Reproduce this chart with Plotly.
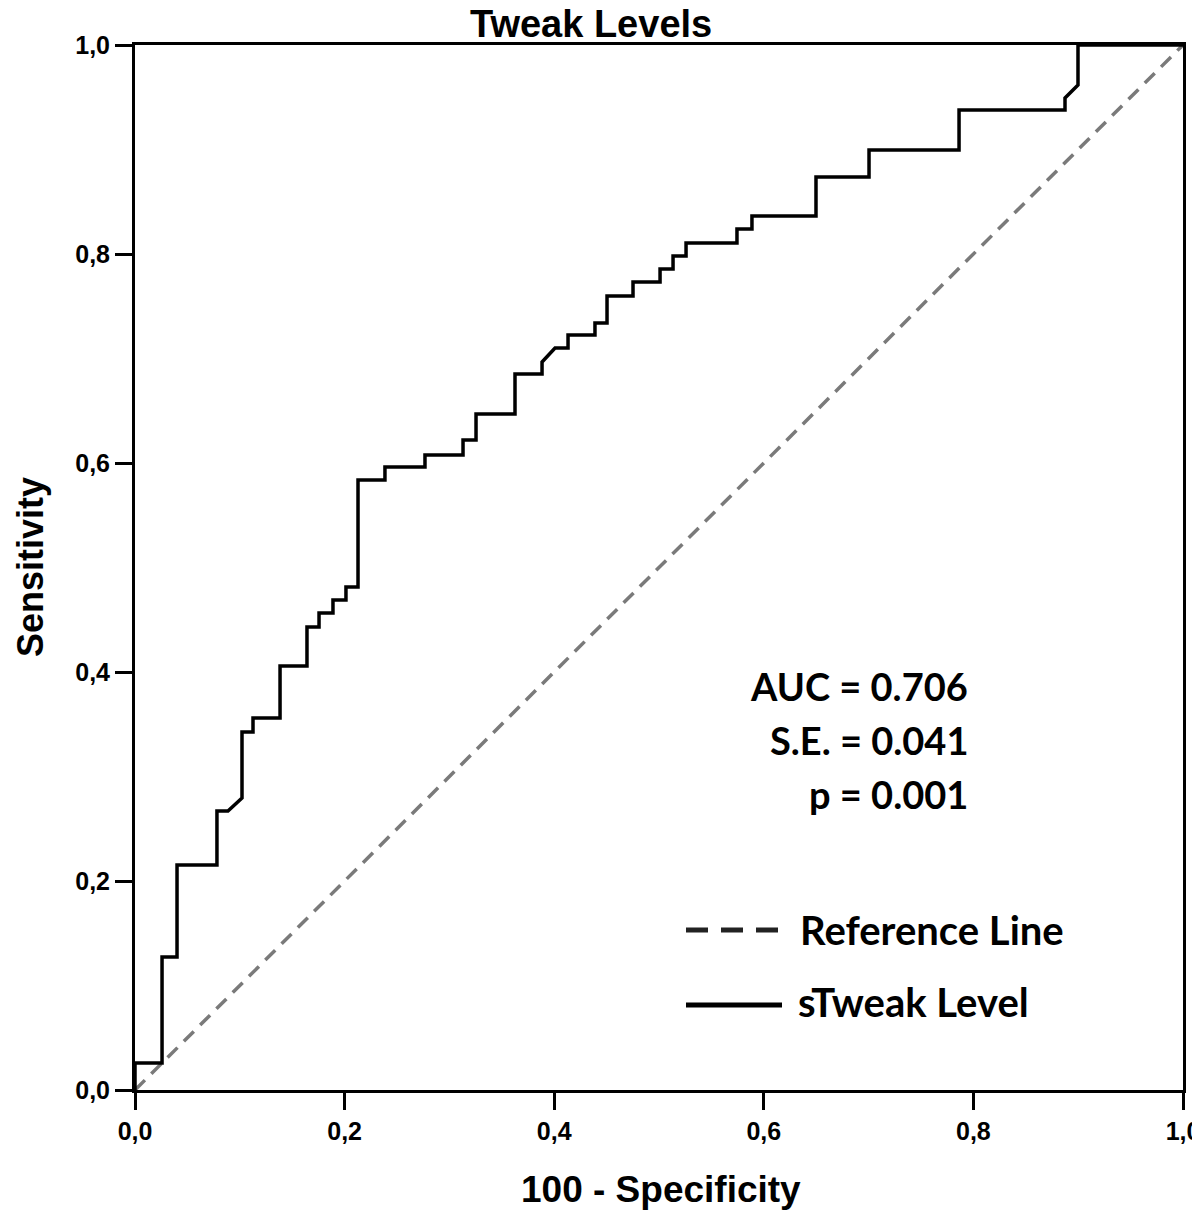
import plotly.graph_objects as go

# ROC curve vertices (1 - specificity, sensitivity)
fpr = [0.0, 0.0, 0.0258, 0.0258, 0.0401, 0.0401, 0.0782, 0.0782, 0.0887, 0.1021,
       0.1021, 0.1126, 0.1126, 0.1384, 0.1384, 0.1641, 0.1641, 0.1756, 0.1756, 0.1889,
       0.1889, 0.2013, 0.2013, 0.2128, 0.2128, 0.2385, 0.2385, 0.2767, 0.2767, 0.3130,
       0.3130, 0.3254, 0.3254, 0.3626, 0.3626, 0.3884, 0.3884, 0.4008, 0.4132, 0.4132,
       0.4389, 0.4389, 0.4504, 0.4504, 0.4752, 0.4752, 0.5010, 0.5010, 0.5134, 0.5134,
       0.5258, 0.5258, 0.5744, 0.5744, 0.5887, 0.5887, 0.6498, 0.6498, 0.7004, 0.7004,
       0.7863, 0.7863, 0.8874, 0.8874, 0.8998, 0.8998, 1.0]
tpr = [0.0, 0.0258, 0.0258, 0.1273, 0.1273, 0.2153, 0.2153, 0.2670, 0.2670, 0.2794,
       0.3426, 0.3426, 0.3560, 0.3560, 0.4057, 0.4057, 0.4431, 0.4431, 0.4565, 0.4565,
       0.4689, 0.4689, 0.4813, 0.4813, 0.5837, 0.5837, 0.5962, 0.5962, 0.6077, 0.6077,
       0.6220, 0.6220, 0.6469, 0.6469, 0.6852, 0.6852, 0.6967, 0.7100, 0.7100, 0.7225,
       0.7225, 0.7340, 0.7340, 0.7598, 0.7598, 0.7732, 0.7732, 0.7856, 0.7856, 0.7981,
       0.7981, 0.8105, 0.8105, 0.8239, 0.8239, 0.8364, 0.8364, 0.8737, 0.8737, 0.8995,
       0.8995, 0.9378, 0.9378, 0.9493, 0.9617, 1.0, 1.0]

ref_x = [0.0, 1.0]
ref_y = [0.0, 1.0]

tick_vals = [0.0, 0.2, 0.4, 0.6, 0.8, 1.0]
tick_text = ["0,0", "0,2", "0,4", "0,6", "0,8", "1,0"]

stats_lines = ["AUC = 0.706", "S.E. = 0.041", "p = 0.001"]
legend_names = ["Reference Line", "sTweak Level"]

TICKFONT = dict(family="Liberation Sans", size=25, color="black", weight="bold")
MAINTITLE = dict(family="Liberation Sans", size=38, color="black", weight="bold")
XTITLE = dict(family="Liberation Sans", size=37, color="black", weight="bold")
YTITLE = dict(family="Liberation Sans", size=36, color="black", weight="bold")
STATFONT = dict(family="Lato", size=38, color="black", weight="bold")
LEGFONT = dict(family="Lato", size=40, color="black", weight="bold")

fig = go.Figure()
fig.add_trace(go.Scatter(x=ref_x, y=ref_y, mode="lines",
                         line=dict(color="#7a7a7a", width=3.5, dash="14px,9px"),
                         name=legend_names[0], showlegend=False))
fig.add_trace(go.Scatter(x=fpr, y=tpr, mode="lines",
                         line=dict(color="black", width=3.5),
                         name=legend_names[1], showlegend=False))

axis_common = dict(range=[0, 1], showgrid=False, zeroline=False, showline=True,
                   linecolor="black", linewidth=3, mirror=True, ticks="outside",
                   ticklen=17, tickwidth=2.5, tickcolor="black", automargin=False,
                   tickvals=tick_vals, ticktext=tick_text, tickfont=TICKFONT)
fig.update_xaxes(**axis_common)
fig.update_yaxes(**axis_common)

# page places the figure with an 8px body margin; plot area spans 135..1183 x 45..1090 on screen
def px_x(p):
    return (p - 135) / 1048.0

def px_y(p):
    return (1090 - p) / 1045.0

ann = []
ann.append(dict(text="Tweak Levels", x=px_x(591), y=px_y(24), xref="paper", yref="paper",
                showarrow=False, xanchor="center", yanchor="middle", font=MAINTITLE))
ann.append(dict(text="100 - Specificity", x=px_x(661), y=px_y(1189), xref="paper", yref="paper",
                showarrow=False, xanchor="center", yanchor="middle", font=XTITLE))
ann.append(dict(text="Sensitivity", x=px_x(30), y=px_y(567), xref="paper", yref="paper",
                showarrow=False, xanchor="center", yanchor="middle", textangle=-90, font=YTITLE))
for txt, ypx in zip(stats_lines, [686, 740, 794]):
    ann.append(dict(text=txt, x=px_x(970), y=px_y(ypx), xref="paper", yref="paper",
                    showarrow=False, xanchor="right", yanchor="middle", font=STATFONT))
ann.append(dict(text=legend_names[0], x=px_x(798), y=px_y(930), xref="paper", yref="paper",
                showarrow=False, xanchor="left", yanchor="middle", font=LEGFONT))
ann.append(dict(text=legend_names[1], x=px_x(796), y=px_y(1002), xref="paper", yref="paper",
                showarrow=False, xanchor="left", yanchor="middle", font=LEGFONT))

shapes = [
    dict(type="line", xref="paper", yref="paper", x0=px_x(686), x1=px_x(778),
         y0=px_y(930), y1=px_y(930), line=dict(color="#222222", width=5, dash="22px,13px")),
    dict(type="line", xref="paper", yref="paper", x0=px_x(686), x1=px_x(782),
         y0=px_y(1005), y1=px_y(1005), line=dict(color="black", width=5)),
]

fig.update_layout(width=1200, height=1213, margin=dict(l=127, r=25, t=37, b=131),
                  paper_bgcolor="white", plot_bgcolor="white",
                  annotations=ann, shapes=shapes, showlegend=False)

fig.write_html("out.html")
